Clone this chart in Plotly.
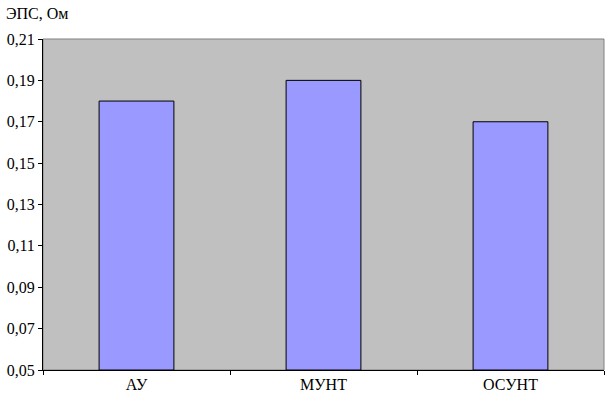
import plotly.graph_objects as go

categories = ["АУ", "МУНТ", "ОСУНТ"]
values = [0.18, 0.19, 0.17]
y_ticks = [0.05, 0.07, 0.09, 0.11, 0.13, 0.15, 0.17, 0.19, 0.21]
y_base = 0.05

fig = go.Figure(go.Bar(
    x=categories, y=[v - y_base for v in values], base=y_base,
    marker=dict(color="#9999FF", line=dict(color="black", width=1)),
    width=0.4,
))

font = "'Times New Roman', 'Liberation Serif', 'DejaVu Serif', serif"
fig.update_layout(
    width=612, height=395,
    margin=dict(l=43, r=8, t=39, b=25, autoexpand=False),
    paper_bgcolor="white", plot_bgcolor="#C0C0C0",
    separators=", ",
    showlegend=False,
    font=dict(family=font, size=16, color="black"),
    shapes=[dict(type="rect", xref="paper", yref="paper", x0=0, x1=1, y0=0, y1=1,
                 line=dict(color="#808080", width=1), layer="below")],
    annotations=[dict(text="ЭПС, Ом", xref="paper", yref="paper", x=-0.069, y=1.045,
                      xanchor="left", yanchor="bottom", showarrow=False,
                      font=dict(family=font, size=16))],
)
fig.update_xaxes(
    automargin=False,
    showline=True, linecolor="black", linewidth=1,
    ticks="outside", tickson="boundaries", ticklen=4, tickcolor="black",
    showgrid=False, range=[-0.5, 2.5],
)
fig.update_yaxes(
    automargin=False,
    range=[0.05, 0.21], tickvals=y_ticks, tickformat=".2f",
    showline=True, linecolor="black", linewidth=1,
    ticks="outside", ticklen=4, tickcolor="black",
    showgrid=False, zeroline=False,
)
fig.write_html("out.html", config={"displayModeBar": False},
               post_script="document.body.style.margin='0';document.body.style.padding='0';")
